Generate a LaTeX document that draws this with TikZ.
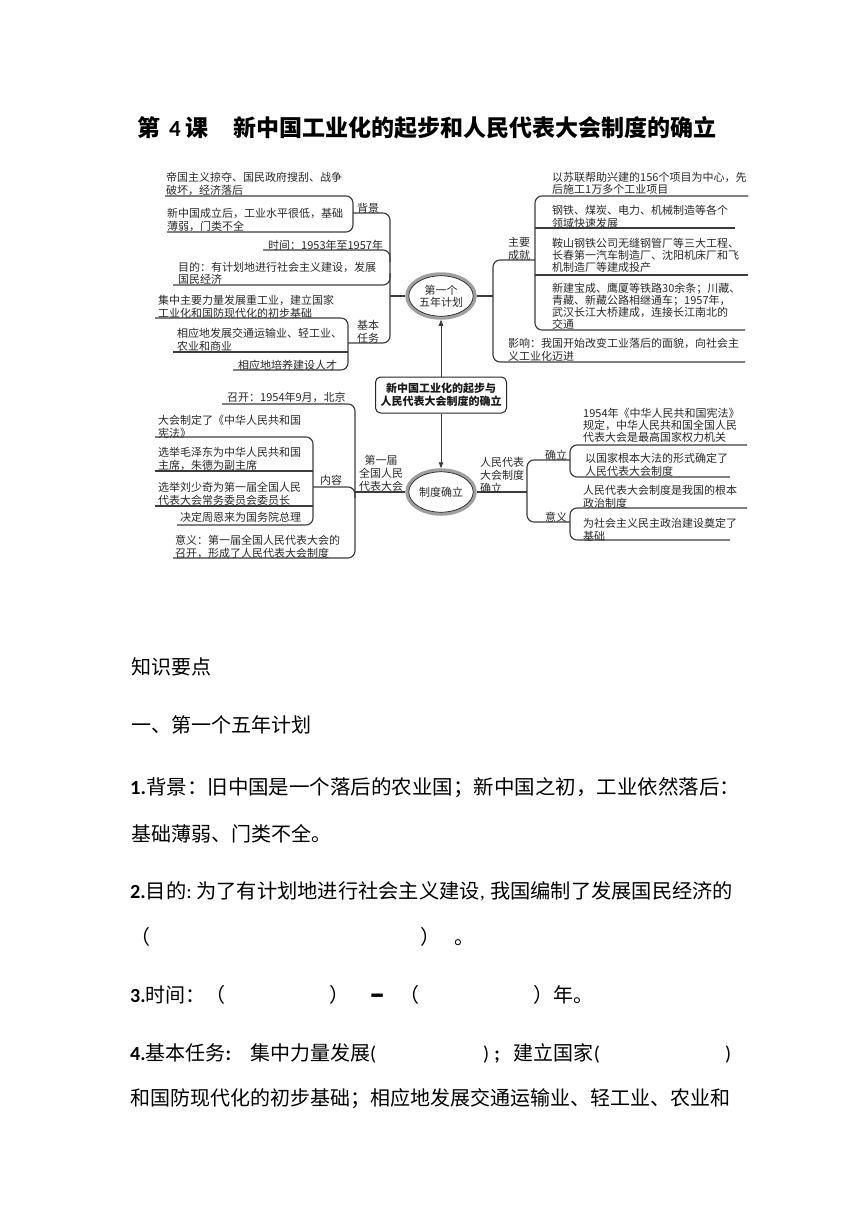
\documentclass[tikz,border=0pt]{standalone}
\usepackage{graphicx}
\usepackage{fontspec}
\setmainfont{Carlito}
\newfontfamily\cjk{Noto Sans CJK SC}
\usetikzlibrary{arrows.meta,shapes.geometric}
\definecolor{mapline}{HTML}{3C3C3C}
\definecolor{maptext}{HTML}{2A2A2A}
\definecolor{ringgray}{HTML}{A0A0A0}
\begin{document}
\begin{tikzpicture}[x=1pt,y=-1pt,
  mline/.style={draw=mapline,line width=1.15pt,rounded corners=7pt},
  mtext/.style={anchor=north west,inner sep=0pt,align=left,text=maptext,font=\cjk\fontsize{11}{12.3}\selectfont},
  mtextc/.style={mtext,font=\cjk\fontsize{11}{11.8}\selectfont},
  mlabel/.style={mtext,font=\cjk\fontsize{11}{12.8}\selectfont},
  btext/.style={anchor=base west,inner sep=0pt,text=black,font=\cjk\fontsize{20}{24}\selectfont},
  ttext/.style={anchor=base west,inner sep=0pt,text=black,font=\cjk\bfseries\fontsize{23}{27}\selectfont},
  ring/.style={ellipse,draw=ringgray,fill=white,line width=3.5pt,minimum width=68pt,minimum height=44pt,inner sep=0pt,text=maptext,align=center,font=\cjk\fontsize{11}{12.3}\selectfont},
  inring/.style={draw=black!85,line width=0.7pt},
  cbox/.style={rectangle,rounded corners=5pt,draw=black!85,fill=white,line width=1pt,minimum width=131pt,minimum height=36pt,inner sep=2pt,align=center,text=black!90,font=\cjk\bfseries\fontsize{11}{13.4}\selectfont},
  arr/.style={draw=mapline,line width=1pt,-{Triangle[width=4.5pt,length=6pt]}},
]
\useasboundingbox (0,0) rectangle (860,1216);
\fill[white] (0,0) rectangle (860,1216);

% title
\node[ttext] (t1) at (137,136.7) {第\hspace{9pt}{\rmfamily 4}\hspace{5pt}课};
\node[ttext] (t2) at (233,136.7) {新中国工业化的起步和人民代表大会制度的确立};

% central nodes
\node[ring] (e1) at (441,296) {第一个\\五年计划};
\node[ring] (e2) at (441,492) {制度确立};
\node[cbox] (c) at (441,395) {新中国工业化的起步与\\人民代表大会制度的确立};
\draw[inring] (e1.center) ellipse [x radius=32.2pt, y radius=20.2pt];
\draw[inring] (e2.center) ellipse [x radius=32.2pt, y radius=20.2pt];
\draw[arr] (c.north) -- (e1.south);
\draw[arr] (c.south) -- (e2.north);

% left top connectors
\draw[mline] (165,196) -| (353,232) -- (167,232);
\draw[mline] (353,213) -| (390,343) -- (348,343);
\draw[mline] (263,250) -| (390,262);
\draw[mline] (173,285) -| (390,273);
\draw[mline] (390,296) -- (e1.west);
\draw[mline] (155,318) -| (348,370) -- (233,370);
\draw[mline] (173,352) -- (348,352);

% left bottom connectors
\draw[mline] (222,404) -| (355,558) -- (173,558);
\draw[mline] (155,437) -| (313,525) -- (177,525);
\draw[mline] (155,471) -- (313,471);
\draw[mline] (155,506) -- (313,506);
\draw[mline] (313,487) -| (355,498);
\draw[mline] (355,492) -- (e2.west);

% right top connectors
\draw[mline] (748,196) -| (535,330) -- (745,330);
\draw[mline] (535,228) -- (735,228);
\draw[mline] (535,275) -- (748,275);
\draw[mline] (535,260) -| (493,362) -- (745,362);
\draw[mline] (e1.east) -- (493,296);

% right bottom connectors
\draw[mline] (570,460) -| (527,522) -- (570,522);
\draw[mline] (e2.east) -- (527,492);
\draw[mline] (747,445) -| (570,477) -- (730,477);
\draw[mline] (747,508) -| (570,540) -- (730,540);

% left top texts
\node[mtext] (lt1) at (166,172.2) {帝国主义掠夺、国民政府搜刮、战争\\破坏，经济落后};
\node[mtext] (lt2) at (167,208.2) {新中国成立后，工业水平很低，基础\\薄弱，门类不全};
\node[mtext] (lt3) at (268,240.2) {时间：1953年至1957年};
\node[mtext] (lt4) at (178,262.2) {目的：有计划地进行社会主义建设，发展\\国民经济};
\node[mtext] (lt5) at (158,295.2) {集中主要力量发展重工业，建立国家\\工业化和国防现代化的初步基础};
\node[mtext] (lt6) at (177,328.2) {相应地发展交通运输业、轻工业、\\农业和商业};
\node[mtext] (lt7) at (238,360.2) {相应地培养建设人才};
\node[mlabel] (lbg) at (357,203.2) {背景};
\node[mlabel] (ljb) at (357,320.2) {基本\\任务};

% left bottom texts
\node[mtext] (lb1) at (227,392.2) {召开：1954年9月，北京};
\node[mtext] (lb2) at (158,415.2) {大会制定了《中华人民共和国\\宪法》};
\node[mtext] (lb3) at (158,447.2) {选举毛泽东为中华人民共和国\\主席，朱德为副主席};
\node[mtext] (lb4) at (158,482.2) {选举刘少奇为第一届全国人民\\代表大会常务委员会委员长};
\node[mtext] (lb5) at (180,512.2) {决定周恩来为国务院总理};
\node[mtext] (lb6) at (175,535.2) {意义：第一届全国人民代表大会的\\召开，形成了人民代表大会制度};
\node[mlabel] (lnr) at (320,475.2) {内容};
\node[mlabel,anchor=north,align=center] (ldy) at (381,455.2) {第一届\\全国人民\\代表大会};

% right top texts
\node[mtext] (rt1) at (552,172.2) {以苏联帮助兴建的156个项目为中心，先\\后施工1万多个工业项目};
\node[mtext] (rt2) at (552,205.2) {钢铁、煤炭、电力、机械制造等各个\\领域快速发展};
\node[mtextc] (rt3) at (552,238.2) {鞍山钢铁公司无缝钢管厂等三大工程、\\长春第一汽车制造厂、沈阳机床厂和飞\\机制造厂等建成投产};
\node[mtextc] (rt4) at (552,283.2) {新建宝成、鹰厦等铁路30余条；川藏、\\青藏、新藏公路相继通车；1957年，\\武汉长江大桥建成，连接长江南北的\\交通};
\node[mtext] (rt5) at (508,338.2) {影响：我国开始改变工业落后的面貌，向社会主\\义工业化迈进};
\node[mlabel] (rzy) at (508,237.2) {主要\\成就};

% right bottom texts
\node[mlabel] (rrm) at (480,457.2) {人民代表\\大会制度\\确立};
\node[mlabel] (rql) at (545,450.2) {确立};
\node[mlabel] (ryy) at (545,512.2) {意义};
\node[mtextc] (rb1) at (583,408.2) {1954年《中华人民共和国宪法》\\规定，中华人民共和国全国人民\\代表大会是最高国家权力机关};
\node[mtext] (rb2) at (585,453.2) {以国家根本大法的形式确定了\\人民代表大会制度};
\node[mtext] (rb3) at (583,485.2) {人民代表大会制度是我国的根本\\政治制度};
\node[mtext] (rb4) at (583,518.2) {为社会主义民主政治建设奠定了\\基础};

% body text
\node[btext] (k1) at (131,674.6) {知识要点};
\node[btext] (k2) at (131,732.6) {一、第一个五年计划};
\node[btext] (p1) at (130,794.6) {\resizebox{610pt}{\height}{{\rmfamily\bfseries 1.}背景：旧中国是一个落后的农业国；新中国之初，工业依然落后：}};
\node[btext] (p1b) at (131,841.6) {基础薄弱、门类不全。};
\node[btext] (p2) at (130,898.6) {\resizebox{603pt}{\height}{{\rmfamily\bfseries 2.}目的{\rmfamily :}\hspace{4.5pt}为了有计划地进行社会主义建设{\rmfamily ,}\hspace{5pt}我国编制了发展国民经济的}};
\node[btext] (p2b) at (130,944.6) {（\hspace{270pt}）\hspace{14pt}。};
\node[btext] (p3a) at (130,1002.6) {{\rmfamily\bfseries 3.}时间：（};
\node[btext] (p3b) at (329,1002.6) {）};
\node[btext] (p3c) at (370,1002.6) {\raisebox{-3.5pt}{\scalebox{0.78}[1.9]{\rmfamily\bfseries —}}};
\node[btext] (p3d) at (399,1002.6) {（};
\node[btext] (p3e) at (533,1002.6) {）年。};
\node[btext] (p4a) at (130,1060.6) {{\rmfamily\bfseries 4.}基本任务{\rmfamily\bfseries :}};
\node[btext] (p4b) at (250,1060.6) {集中力量发展{\rmfamily (}};
\node[btext] (p4c) at (483,1060.6) {{\rmfamily )\hspace{5pt}\bfseries ;}\hspace{14pt}建立国家{\rmfamily (}};
\node[btext] (p4d) at (725,1060.6) {{\rmfamily )}};
\node[btext] (p5) at (130,1105.6) {和国防现代化的初步基础；相应地发展交通运输业、轻工业、农业和};
\end{tikzpicture}
\end{document}
